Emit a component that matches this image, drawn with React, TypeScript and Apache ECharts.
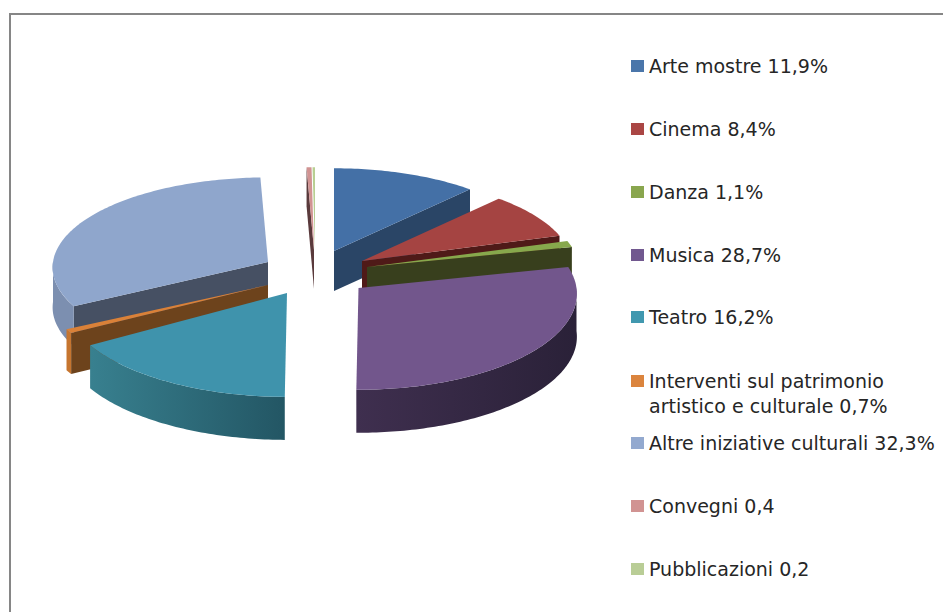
import React, { useEffect, useRef } from "react";
import * as echarts from "echarts";

const categories = [
  "Arte mostre 11,9%",
  "Cinema 8,4%",
  "Danza 1,1%",
  "Musica 28,7%",
  "Teatro 16,2%",
  "Interventi sul patrimonio\nartistico e culturale 0,7%",
  "Altre iniziative culturali 32,3%",
  "Convegni 0,4",
  "Pubblicazioni 0,2",
];
const values = [11.9, 8.4, 1.1, 28.7, 16.2, 0.7, 32.3, 0.4, 0.2];

const legendColors = ["#4a76aa", "#aa4644", "#89a64e", "#71588f", "#4198af", "#db843d", "#93a9cf", "#d19392", "#b9cd96"];
const topColors = ["#4470a6", "#a54442", "#87a84c", "#72568c", "#3f93ac", "#da8138", "#8fa6cc", "#d19392", "#b8cf92"];
const cutColors = ["#2a4566", "#4f1a18", "#383f1d", "#3a2c48", "#235664", "#6d431c", "#465063", "#5a3a3c", "#5b6a45"];
const wallLeft = ["#2a4566", "#6a2a28", "#5a7030", "#3f2f4f", "#38808f", "#c6752f", "#7c8fb0", "#8a6a6a", "#8a9a70"];
const wallRight = ["#2a4566", "#6a2a28", "#5a7030", "#2a2138", "#235664", "#c6752f", "#7c8fb0", "#8a6a6a", "#8a9a70"];

// Exploded placement of each slice; the front of the pie is drawn larger than its back
const centersX = [334, 362, 367, 358.5, 287, 268, 268, 314, 315];
const centersY = [251, 261, 267, 288, 293, 285, 262, 250, 250];
const radiiX = [209, 210, 213, 218, 223, 223, 215, 209, 209];
const radiiY = [88, 89, 91, 96, 98, 90, 90, 88, 88];
const depths = [40, 40, 40, 43, 43, 41, 40, 39, 39];
const stacking = [3, 4, 5, 9, 8, 7, 6, 1, 2];
const legendCenters = [66, 129, 192, 255, 317, 381, 443, 506, 569];
const perspective = 0.06;

const total = values.reduce((a, b) => a + b, 0);
const startShares = values.map((_, i) => values.slice(0, i).reduce((a, b) => a + b, 0));

const rad = (d: number) => (d * Math.PI) / 180;

function renderSlice(index: number) {
  return (_params: any, api: any) => {
    const v = api.value(0);
    const a0 = (startShares[index] / total) * 360;
    const a1 = a0 + (v / total) * 360;
    const cx = centersX[index];
    const cy = centersY[index];
    const rx = radiiX[index];
    const ry = radiiY[index];
    const d = depths[index];
    const pt = (a: number, dy = 0) => {
      const k = 1 - perspective * Math.cos(rad(a));
      return [cx + rx * k * Math.sin(rad(a)), cy - ry * k * Math.cos(rad(a)) + dy];
    };
    const arc = (from: number, to: number, dy = 0) => {
      const out: number[][] = [];
      const n = Math.max(2, Math.ceil(Math.abs(to - from)));
      for (let i = 0; i <= n; i++) out.push(pt(from + ((to - from) * i) / n, dy));
      return out;
    };
    const children: any[] = [];
    const cutWall = (a: number) => ({
      type: "polygon",
      shape: { points: [[cx, cy], pt(a), pt(a, d), [cx, cy + d]] },
      style: { fill: cutColors[index] },
    });
    if (Math.sin(rad(a0)) < -0.02) children.push(cutWall(a0));
    if (Math.sin(rad(a1)) > 0.02) children.push(cutWall(a1));
    const w0 = Math.max(a0, 90);
    const w1 = Math.min(a1, 270);
    if (w1 > w0) {
      children.push({
        type: "polygon",
        shape: { points: [...arc(w0, w1), ...arc(w1, w0, d)] },
        style: {
          fill: new echarts.graphic.LinearGradient(0, 0, 1, 0, [
            { offset: 0, color: wallLeft[index] },
            { offset: 1, color: wallRight[index] },
          ]),
        },
      });
    }
    children.push({
      type: "polygon",
      shape: { points: [[cx, cy], ...arc(a0, a1)] },
      style: { fill: topColors[index] },
    });
    return { type: "group", children };
  };
}

export default function App() {
  const ref = useRef<HTMLDivElement>(null);
  useEffect(() => {
    const chart = echarts.init(ref.current!, undefined, { renderer: "svg" });
    chart.setOption({
      animation: false,
      backgroundColor: "#ffffff",
      legend: categories.map((name, i) => {
        const twoLines = name.includes("\n");
        return {
          data: [{ name, icon: "rect", itemStyle: { color: legendColors[i] } }],
          left: 631,
          top: legendCenters[i] - (twoLines ? 37.5 : 12.5),
          padding: 0,
          itemWidth: 13,
          itemHeight: 12,
          itemGap: 0,
          selectedMode: false,
          formatter: (n: string) => (n.includes("\n") ? "\n" + n : n),
          textStyle: {
            fontFamily: "DejaVu Sans",
            fontSize: 19,
            color: "#262626",
            lineHeight: 25,
          },
        };
      }),
      graphic: [
        { type: "line", shape: { x1: 9, y1: 14, x2: 943, y2: 14 }, style: { stroke: "#868686", lineWidth: 2 } },
        { type: "line", shape: { x1: 10, y1: 13, x2: 10, y2: 612 }, style: { stroke: "#868686", lineWidth: 2 } },
      ],
      series: categories.map((name, i) => ({
        type: "custom",
        name,
        coordinateSystem: "none",
        z: stacking[i],
        silent: true,
        itemStyle: { color: legendColors[i] },
        renderItem: renderSlice(i),
        data: [[values[i]]],
      })),
    });
    return () => chart.dispose();
  }, []);
  return <div ref={ref} style={{ position: "fixed", left: 0, top: 0, width: 943, height: 612 }} />;
}
